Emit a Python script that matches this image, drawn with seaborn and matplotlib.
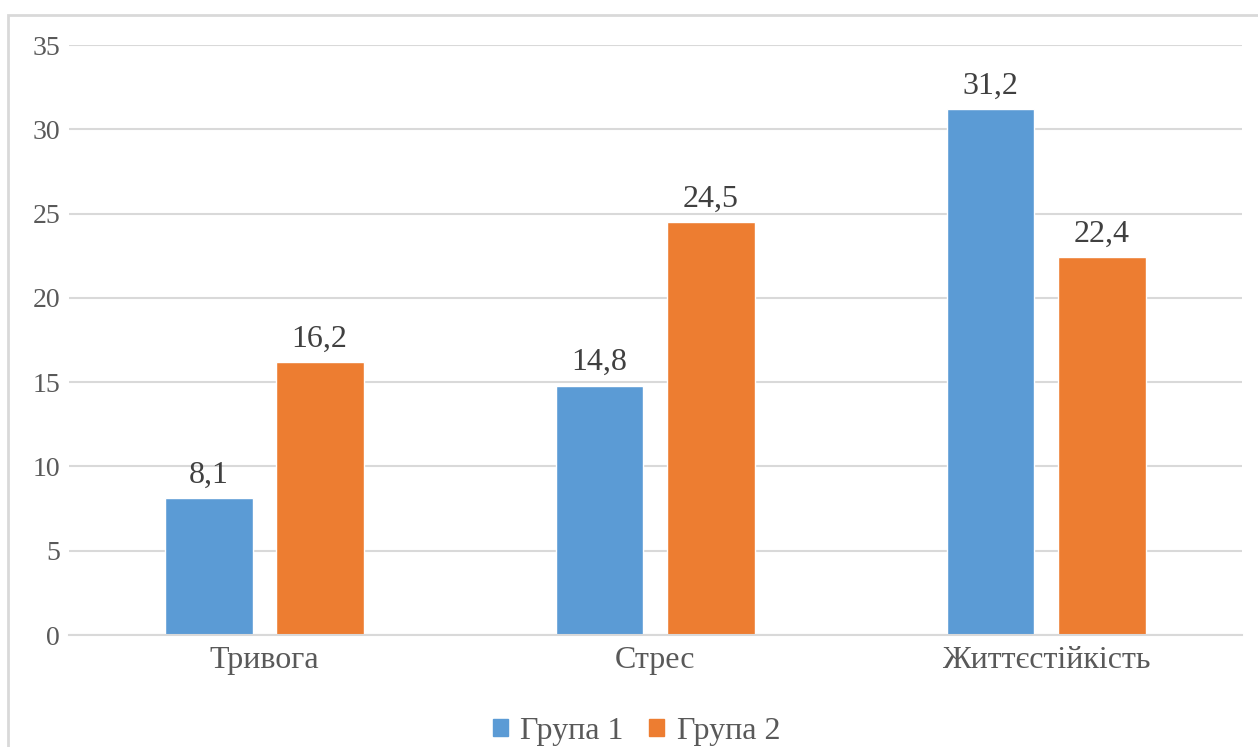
import numpy as np
import pandas as pd
import matplotlib.pyplot as plt
import matplotlib.patches as mpatches
import seaborn as sns

# ======================================================
# Data
# ======================================================
categories = ["Тривога", "Стрес", "Життєстійкість"]
groups = ["Група 1", "Група 2"]
group1 = [8.1, 14.8, 31.2]
group2 = [16.2, 24.5, 22.4]
y_ticks = [0, 5, 10, 15, 20, 25, 30, 35]

df = pd.DataFrame({
    "category": categories * 2,
    "group": [groups[0]] * 3 + [groups[1]] * 3,
    "value": group1 + group2,
})

colors = {"Група 1": "#5B9BD5", "Група 2": "#ED7D31"}

# ======================================================
# Style
# ======================================================
sns.set_style("white")
plt.rcParams["font.family"] = ["Liberation Serif", "DejaVu Serif"]

fig = plt.figure(figsize=(12.58, 7.47), dpi=100)
ax = fig.add_axes([0.0545, 0.1499, 0.9324, 0.7898])

sns.barplot(
    data=df, x="category", y="value", hue="group",
    order=categories, hue_order=groups, palette=colors,
    width=0.568, gap=0.208, saturation=1, ax=ax, legend=False,
)

# data labels
for cont in ax.containers:
    labels = [f"{v:.1f}".replace(".", ",") for v in cont.datavalues]
    ax.bar_label(cont, labels=labels, padding=6, fontsize=23, color="#404040")

ax.set_ylim(0, 35)
ax.set_xlim(-0.5, 2.5)
ax.set_yticks(y_ticks)
ax.yaxis.grid(True, color="#D9D9D9", linewidth=1.5)
ax.set_axisbelow(True)
for side in ["top", "right", "left"]:
    ax.spines[side].set_visible(False)
ax.spines["bottom"].set_color("#D9D9D9")
ax.spines["bottom"].set_linewidth(1.5)
ax.tick_params(axis="y", length=0, pad=6, labelsize=20, labelcolor="#595959")
ax.tick_params(axis="x", length=0, pad=8, labelsize=23, labelcolor="#595959")
ax.set_xlabel("")
ax.set_ylabel("")

# legend
handles = [mpatches.Patch(color=colors[g], label=g) for g in groups]
fig.legend(
    handles=handles, loc="center", bbox_to_anchor=(0.506, 0.021), ncol=2,
    frameon=False, fontsize=23, labelcolor="#595959",
    handlelength=0.47, handleheight=0.47, handletextpad=0.4, columnspacing=0.8,
)

# chart frame
frame = mpatches.Rectangle(
    (8 / 1258, -0.05), 1.1, 0.98 + 0.05, transform=fig.transFigure,
    fill=False, edgecolor="#D9D9D9", linewidth=2, clip_on=False,
)
fig.patches.append(frame)

fig.savefig("out.png", dpi=100)
